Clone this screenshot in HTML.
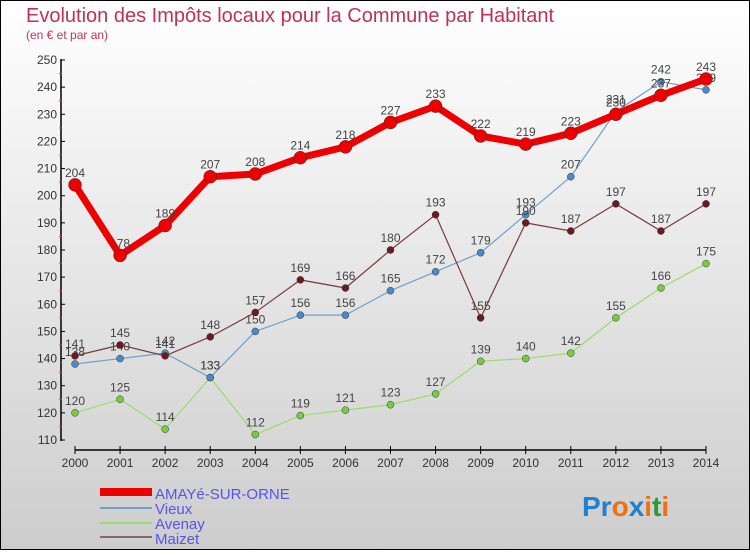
<!DOCTYPE html>
<html><head><meta charset="utf-8"><style>
body{margin:0;width:750px;height:550px;overflow:hidden;font-family:"Liberation Sans",sans-serif}
svg text{font-family:"Liberation Sans",sans-serif}
</style></head><body>
<svg id="c" width="750" height="550">
<defs><linearGradient id="bg" x1="0" y1="0" x2="0" y2="1"><stop offset="0" stop-color="#ffffff"/><stop offset="1" stop-color="#cdcdcd"/></linearGradient></defs>
<rect x="0.5" y="0.5" width="749" height="549" fill="url(#bg)" stroke="#000"/>
<text x="26" y="22" font-size="20" fill="#c0305a">Evolution des Impôts locaux pour la Commune par Habitant</text>
<text x="26" y="39" font-size="12" fill="#c0305a">(en € et par an)</text>
<g id="axes"></g><g id="series"></g>
<g>
<rect x="100" y="488" width="52" height="8" fill="#ee0000"/>
<text x="155" y="499" font-size="15" fill="#5555ee">AMAYé-SUR-ORNE</text>
<rect x="100" y="507" width="52" height="2" fill="#6fa0cc"/>
<text x="155" y="514" font-size="15" fill="#5555ee">Vieux</text>
<rect x="100" y="522" width="52" height="2" fill="#99dd66"/>
<text x="155" y="529" font-size="15" fill="#5555ee">Avenay</text>
<rect x="100" y="536" width="52" height="2" fill="#886666"/>
<text x="155" y="544" font-size="15" fill="#5555ee">Maizet</text>
</g>
<text x="582" y="516" font-size="28" font-weight="bold"><tspan fill="#1f7fd0">Pr</tspan><tspan fill="#f07010">o</tspan><tspan fill="#1f7fd0">x</tspan><tspan fill="#f07010">i</tspan><tspan fill="#2a9a3a">t</tspan><tspan fill="#f07010">i</tspan></text>
</svg>
<script>
const years=[2000,2001,2002,2003,2004,2005,2006,2007,2008,2009,2010,2011,2012,2013,2014];
const yTicks=[110,120,130,140,150,160,170,180,190,200,210,220,230,240,250];
const amaye=[204,178,189,207,208,214,218,227,233,222,219,223,230,237,243];
const vieux=[138,140,142,133,150,156,156,165,172,179,193,207,231,242,239];
const avenay=[120,125,114,133,112,119,121,123,127,139,140,142,155,166,175];
const maizet=[141,145,141,148,157,169,166,180,193,155,190,187,197,187,197];
const NS='http://www.w3.org/2000/svg';
const xs=i=>75+i*(706-75)/(years.length-1);
const ys=v=>440-(v-110)*(380/140);
function mk(t,a,p){const e=document.createElementNS(NS,t);for(const k in a)e.setAttribute(k,a[k]);p.appendChild(e);return e;}
const ax=document.getElementById('axes');
const yAxis=mk('line',{x1:61,y1:59,x2:61,y2:441,stroke:'#000','stroke-width':1.5},ax);


yTicks.forEach(v=>{
 mk('line',{x1:61,x2:65,y1:ys(v),y2:ys(v),stroke:'#000'},ax);
 if(v<250)mk('line',{x1:59,x2:62,y1:ys(v+5),y2:ys(v+5),stroke:'#e33'},ax);
 const t=mk('text',{x:57,y:ys(v)+4,'font-size':12,'text-anchor':'end',fill:'#333'},ax);t.textContent=v;
 
 
});
const xAxis=mk('line',{x1:75,y1:450,x2:706,y2:450,stroke:'#000','stroke-width':1.5},ax);


years.forEach((y,i)=>{
 mk('line',{x1:xs(i),x2:xs(i),y1:446,y2:454,stroke:'#000'},ax);
 const t=mk('text',{x:xs(i),y:467,'font-size':12,'text-anchor':'middle',fill:'#333'},ax);t.textContent=y;
 
 
});
const sg=document.getElementById('series');
function draw(data,name,color,dot,w,r){
 const g=mk('g',{},sg);
 
 
 const l=mk('polyline',{points:data.map((v,i)=>xs(i)+','+ys(v)).join(' '),fill:'none',stroke:color,'stroke-width':w,'stroke-linejoin':'round'},g);
 
 
 data.forEach((v,i)=>{
  const c=mk('circle',{cx:xs(i),cy:ys(v),r:r,fill:dot,stroke:'#333','stroke-width':0.5},g);
  
  
  const t=mk('text',{x:xs(i),y:ys(v)-8,'font-size':12,'text-anchor':'middle',fill:'#444'},g);t.textContent=v;
  
  
 });
}
draw(avenay,'avenay','#99dd66','#77cc44',1.2,3.5);
draw(vieux,'vieux','#6fa0cc','#4a8ac8',1.2,3.5);
draw(maizet,'maizet','#7a3a3a','#6a1a20',1.2,3.5);
draw(amaye,'amaye','#ee0000','#ee0000',7,6.5);
</script>
</body></html>
